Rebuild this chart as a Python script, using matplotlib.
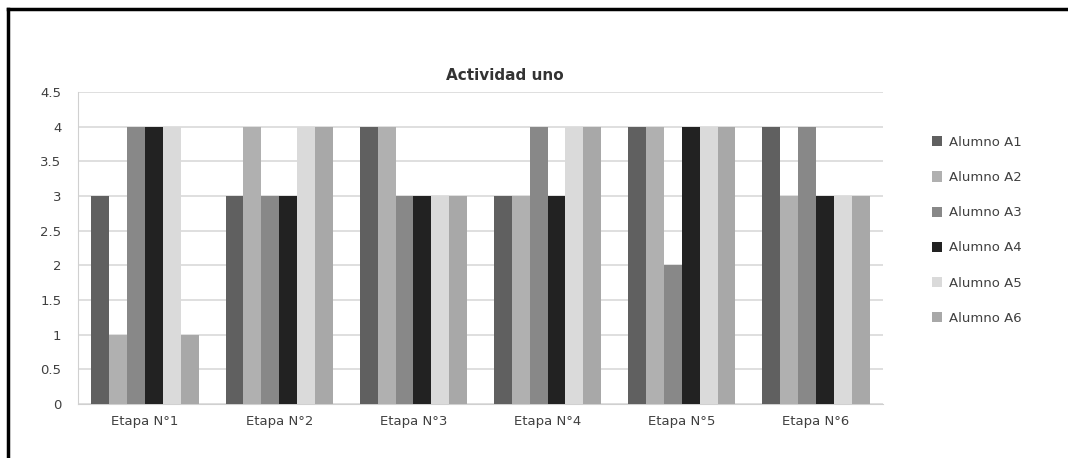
import matplotlib
matplotlib.use("Agg")
import matplotlib.pyplot as plt
import numpy as np
from matplotlib.lines import Line2D

etapas = ["Etapa N°1", "Etapa N°2", "Etapa N°3", "Etapa N°4", "Etapa N°5", "Etapa N°6"]
alumnos = ["Alumno A1", "Alumno A2", "Alumno A3", "Alumno A4", "Alumno A5", "Alumno A6"]
a1 = [3, 3, 4, 3, 4, 4]
a2 = [1, 4, 4, 3, 4, 3]
a3 = [4, 3, 3, 4, 2, 4]
a4 = [4, 3, 3, 3, 4, 3]
a5 = [4, 4, 3, 4, 4, 3]
a6 = [1, 4, 3, 4, 4, 3]
series = [a1, a2, a3, a4, a5, a6]
colores = ["#606060", "#b0b0b0", "#888888", "#222222", "#dadada", "#a8a8a8"]

fig = plt.figure(figsize=(10.68, 4.58), dpi=100)
ax = fig.add_axes([78/1068, 1-404/458, (883-78)/1068, (404-92)/458])

x = np.arange(len(etapas))
w = 0.8/6
for i, (s, c, lab) in enumerate(zip(series, colores, alumnos)):
    ax.bar(x - 0.4 + w*(i+0.5), s, width=w, color=c, label=lab, zorder=3)

ax.set_xlim(-0.5, 5.5)
ax.set_ylim(0, 4.5)
ax.set_yticks(np.arange(0, 4.51, 0.5))
ax.set_yticklabels(["0", "0.5", "1", "1.5", "2", "2.5", "3", "3.5", "4", "4.5"])
ax.set_xticks(x)
ax.set_xticklabels(etapas)
ax.tick_params(length=0, labelsize=9.5, colors="#404040", pad=8)
ax.tick_params(axis="y", pad=12)
ax.grid(axis="y", color="#d9d9d9", lw=1.2, zorder=0)
for sp in ["top", "right"]:
    ax.spines[sp].set_visible(False)
ax.spines["left"].set_color("#d0d0d0")
ax.spines["bottom"].set_color("#d0d0d0")

fig.text(505/1068, 1-75/458, "Actividad uno", ha="center", va="center",
         fontsize=11, fontweight="bold", color="#333333")

ax.legend(loc="upper left", bbox_to_anchor=(920/1068, 1-124/458), bbox_transform=fig.transFigure,
          frameon=False, fontsize=9.5, handlelength=0.8, handleheight=0.8,
          labelspacing=1.68, handletextpad=0.5, labelcolor="#404040")

# marco negro del gráfico
fig.add_artist(Line2D([8/1068, 8/1068], [0, 1-9/458], transform=fig.transFigure, color="black", lw=2.5))
fig.add_artist(Line2D([8/1068, 1], [1-9/458, 1-9/458], transform=fig.transFigure, color="black", lw=2.5,
                      solid_capstyle="projecting"))

fig.savefig("out.png", dpi=100)
